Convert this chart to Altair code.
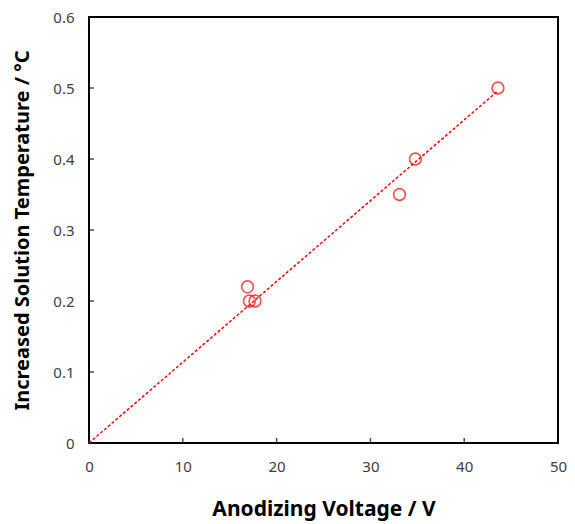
import altair as alt
import pandas as pd

voltage = [16.9, 17.1, 17.7, 33.1, 34.8, 43.6]
temp_rise = [0.22, 0.20, 0.20, 0.35, 0.40, 0.50]
trend_x = [0, 43.6]
trend_y = [0, 0.496]
x_ticks = [10, 20, 30, 40]
y_ticks = [0.1, 0.2, 0.3, 0.4, 0.5]

pts = pd.DataFrame({"v": voltage, "t": temp_rise})
trend = pd.DataFrame({"v": trend_x, "t": trend_y})
xt = pd.DataFrame({"v": x_ticks})
yt = pd.DataFrame({"t": y_ticks})

FONT = "Noto Sans"
xscale = alt.Scale(domain=[0, 50], nice=False)
yscale = alt.Scale(domain=[0, 0.6], nice=False)

xaxis = alt.Axis(title="Anodizing Voltage / V", values=[0, 10, 20, 30, 40, 50],
                 grid=False, ticks=False, domain=False, labelFont=FONT,
                 labelFontSize=15, labelColor="#404040", labelPadding=16,
                 labelFlush=False,
                 titleFont=FONT, titleFontSize=21, titleFontWeight="bold",
                 titleColor="#000000", titlePadding=24)
yaxis = alt.Axis(title="Increased Solution Temperature / °C",
                 values=[0, 0.1, 0.2, 0.3, 0.4, 0.5, 0.6],
                 format="~g", grid=False, ticks=False, domain=False,
                 labelFont=FONT, labelFontSize=15, labelColor="#404040",
                 labelPadding=15, labelFlush=False,
                 titleFont=FONT, titleFontSize=20,
                 titleFontWeight="bold", titleColor="#000000", titlePadding=20)

line = alt.Chart(trend).mark_line(color="#FF0000", strokeDash=[3, 2], strokeWidth=1.5).encode(
    x=alt.X("v:Q", scale=xscale, axis=xaxis),
    y=alt.Y("t:Q", scale=yscale, axis=yaxis),
)
points = alt.Chart(pts).mark_point(shape="circle", filled=False, color="#FF0000",
                                   size=140, strokeWidth=1.6).encode(
    x=alt.X("v:Q", scale=xscale),
    y=alt.Y("t:Q", scale=yscale),
)
xtick = alt.Chart(xt).mark_tick(orient="vertical", size=10, thickness=1.5,
                                color="#000000", clip=True).encode(
    x=alt.X("v:Q", scale=xscale), y=alt.datum(0))
ytick = alt.Chart(yt).mark_tick(orient="horizontal", size=10, thickness=1.5,
                                color="#000000", clip=True).encode(
    y=alt.Y("t:Q", scale=yscale), x=alt.datum(0))

chart = alt.layer(xtick, ytick, line, points).properties(
    width=469, height=426,
    autosize=alt.AutoSizeParams(type="none"),
    padding={"left": 81, "top": 9, "right": 9, "bottom": 78},
).configure_view(stroke="#000000", strokeWidth=2)

chart.save("out.html", embed_options={"renderer": "svg", "actions": False})
